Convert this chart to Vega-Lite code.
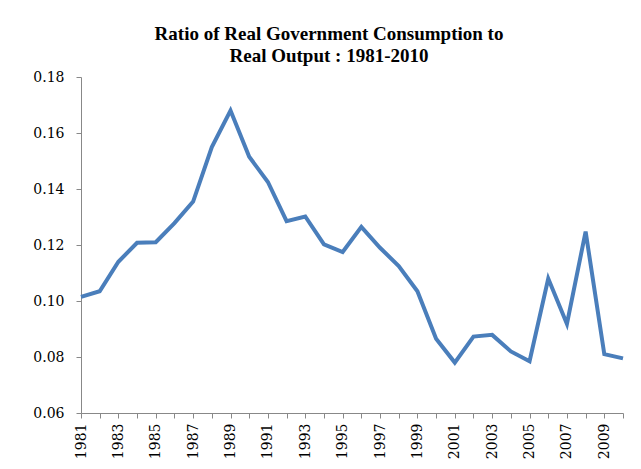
{
  "$schema": "https://vega.github.io/schema/vega-lite/v6.json",
  "autosize": "none",
  "width": 542,
  "height": 336,
  "padding": {"left": 81, "top": 77, "right": 18, "bottom": 56},
  "background": "white",
  "title": {
    "text": ["Ratio of Real Government Consumption to", "Real Output : 1981-2010"],
    "font": "Liberation Serif",
    "fontSize": 19,
    "fontWeight": "bold",
    "color": "black",
    "anchor": "middle",
    "dx": -23,
    "offset": 4,
    "lineHeight": 22
  },
  "config": {
    "view": {"stroke": null}
  },
  "data": {
    "values": [
      {"year": 1981, "ratio": 0.1015},
      {"year": 1982, "ratio": 0.1035},
      {"year": 1983, "ratio": 0.114},
      {"year": 1984, "ratio": 0.1208},
      {"year": 1985, "ratio": 0.121},
      {"year": 1986, "ratio": 0.1278},
      {"year": 1987, "ratio": 0.1355},
      {"year": 1988, "ratio": 0.155},
      {"year": 1989, "ratio": 0.168},
      {"year": 1990, "ratio": 0.1515},
      {"year": 1991, "ratio": 0.1425},
      {"year": 1992, "ratio": 0.1285},
      {"year": 1993, "ratio": 0.1302},
      {"year": 1994, "ratio": 0.1202},
      {"year": 1995, "ratio": 0.1175},
      {"year": 1996, "ratio": 0.1265},
      {"year": 1997, "ratio": 0.119},
      {"year": 1998, "ratio": 0.1125},
      {"year": 1999, "ratio": 0.1035},
      {"year": 2000, "ratio": 0.0865},
      {"year": 2001, "ratio": 0.078},
      {"year": 2002, "ratio": 0.0873},
      {"year": 2003, "ratio": 0.0879},
      {"year": 2004, "ratio": 0.082},
      {"year": 2005, "ratio": 0.0785},
      {"year": 2006, "ratio": 0.108},
      {"year": 2007, "ratio": 0.0918},
      {"year": 2008, "ratio": 0.1248},
      {"year": 2009, "ratio": 0.081},
      {"year": 2010, "ratio": 0.0795}
    ]
  },
  "mark": {"type": "line", "color": "#4a7ebb", "strokeWidth": 4, "strokeJoin": "miter"},
  "encoding": {
    "x": {
      "field": "year",
      "type": "quantitative",
      "scale": {"domain": [1981, 2010], "nice": false, "zero": false},
      "axis": {
        "title": null,
        "grid": false,
        "labelFont": "DejaVu Serif",
        "labelFontSize": 14,
        "labelFontWeight": "normal",
        "labelColor": "black",
        "domainColor": "#888888",
        "tickColor": "#888888",
        "values": [1981,1982,1983,1984,1985,1986,1987,1988,1989,1990,1991,1992,1993,1994,1995,1996,1997,1998,1999,2000,2001,2002,2003,2004,2005,2006,2007,2008,2009,2010],
        "labelExpr": "datum.value % 2 == 1 ? format(datum.value, 'd') : ''",
        "labelAngle": -90,
        "labelAlign": "right",
        "labelBaseline": "middle",
        "labelPadding": 5,
        "labelOverlap": false,
        "tickSize": 5
      }
    },
    "y": {
      "field": "ratio",
      "type": "quantitative",
      "scale": {"domain": [0.06, 0.18], "nice": false, "zero": false},
      "axis": {
        "title": null,
        "grid": false,
        "labelFont": "DejaVu Serif",
        "labelFontSize": 14,
        "labelFontWeight": "normal",
        "labelColor": "black",
        "domainColor": "#888888",
        "tickColor": "#888888",
        "values": [0.06, 0.08, 0.10, 0.12, 0.14, 0.16, 0.18],
        "format": ".2f",
        "tickSize": 5,
        "labelPadding": 12
      }
    }
  }
}
